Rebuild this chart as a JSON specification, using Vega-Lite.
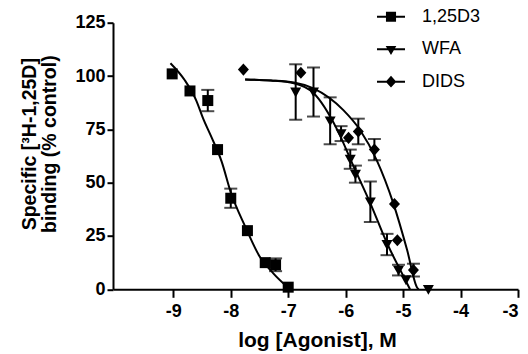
{
  "$schema": "https://vega.github.io/schema/vega-lite/v6.json",
  "width": 405,
  "height": 266.6,
  "autosize": "none",
  "padding": {"left": 113, "top": 22.7, "right": 10, "bottom": 64.7},
  "background": "white",
  "config": {"view": {"stroke": null}, "font": "Liberation Sans"},
  "datasets": {
    "points": [
      {"series": "1,25D3", "x": -9.02, "y": 101, "err": 0},
      {"series": "1,25D3", "x": -8.71, "y": 93, "err": 0},
      {"series": "1,25D3", "x": -8.4, "y": 88.5, "err": 5},
      {"series": "1,25D3", "x": -8.23, "y": 65.5, "err": 0},
      {"series": "1,25D3", "x": -8.0, "y": 42.7, "err": 4.5},
      {"series": "1,25D3", "x": -7.71, "y": 27.5, "err": 0},
      {"series": "1,25D3", "x": -7.4, "y": 12.5, "err": 0},
      {"series": "1,25D3", "x": -7.22, "y": 11.5, "err": 3},
      {"series": "1,25D3", "x": -7.0, "y": 1, "err": 0},
      {"series": "WFA", "x": -6.87, "y": 92.5, "err": 13},
      {"series": "WFA", "x": -6.56, "y": 92.5, "err": 11.5},
      {"series": "WFA", "x": -6.27, "y": 79, "err": 11},
      {"series": "WFA", "x": -6.08, "y": 73, "err": 3.5},
      {"series": "WFA", "x": -5.92, "y": 61, "err": 4.5},
      {"series": "WFA", "x": -5.83, "y": 54, "err": 4},
      {"series": "WFA", "x": -5.57, "y": 41, "err": 9.5},
      {"series": "WFA", "x": -5.28, "y": 21, "err": 5},
      {"series": "WFA", "x": -5.08, "y": 9, "err": 2.5},
      {"series": "WFA", "x": -4.95, "y": 4.5, "err": 0},
      {"series": "WFA", "x": -4.56, "y": 0, "err": 0},
      {"series": "DIDS", "x": -7.78, "y": 103, "err": 0},
      {"series": "DIDS", "x": -6.78, "y": 101.5, "err": 0},
      {"series": "DIDS", "x": -5.95, "y": 71, "err": 0},
      {"series": "DIDS", "x": -5.78, "y": 74, "err": 6},
      {"series": "DIDS", "x": -5.5, "y": 65.5, "err": 5},
      {"series": "DIDS", "x": -5.15, "y": 40, "err": 0},
      {"series": "DIDS", "x": -5.1, "y": 23, "err": 0},
      {"series": "DIDS", "x": -4.82, "y": 9, "err": 3}
    ],
    "curves": [
      {"series": "1,25D3", "x": -9.05, "y": 106},
      {"series": "1,25D3", "x": -8.8, "y": 98},
      {"series": "1,25D3", "x": -8.6, "y": 88.5},
      {"series": "1,25D3", "x": -8.48, "y": 80},
      {"series": "1,25D3", "x": -8.33, "y": 71},
      {"series": "1,25D3", "x": -8.16, "y": 60},
      {"series": "1,25D3", "x": -8.0, "y": 45.5},
      {"series": "1,25D3", "x": -7.75, "y": 29.5},
      {"series": "1,25D3", "x": -7.5, "y": 15.5},
      {"series": "1,25D3", "x": -7.26, "y": 7.5},
      {"series": "1,25D3", "x": -7.02, "y": 1.2},
      {"series": "1,25D3", "x": -6.97, "y": 0},
      {"series": "WFA", "x": -7.75, "y": 98.4},
      {"series": "WFA", "x": -7.3, "y": 97.9},
      {"series": "WFA", "x": -6.9, "y": 96.6},
      {"series": "WFA", "x": -6.56, "y": 92},
      {"series": "WFA", "x": -6.15, "y": 75},
      {"series": "WFA", "x": -5.86, "y": 57.5},
      {"series": "WFA", "x": -5.57, "y": 40.3},
      {"series": "WFA", "x": -5.28, "y": 21.6},
      {"series": "WFA", "x": -4.99, "y": 5.9},
      {"series": "WFA", "x": -4.88, "y": 0},
      {"series": "DIDS", "x": -7.75, "y": 98.4},
      {"series": "DIDS", "x": -7.3, "y": 97.9},
      {"series": "DIDS", "x": -6.9, "y": 97},
      {"series": "DIDS", "x": -6.56, "y": 94.2},
      {"series": "DIDS", "x": -6.04, "y": 84},
      {"series": "DIDS", "x": -5.75, "y": 74.7},
      {"series": "DIDS", "x": -5.46, "y": 60.6},
      {"series": "DIDS", "x": -5.17, "y": 40.3},
      {"series": "DIDS", "x": -4.93, "y": 18.4},
      {"series": "DIDS", "x": -4.76, "y": 1},
      {"series": "DIDS", "x": -4.73, "y": 0}
    ]
  },
  "encoding": {
    "x": {
      "field": "x",
      "type": "quantitative",
      "scale": {"domain": [-10.05, -3], "nice": false, "zero": false},
      "axis": {
        "values": [-9, -8, -7, -6, -5, -4, -3],
        "labelExpr": "datum.value + ''",
        "title": "log [Agonist], M",
        "grid": false,
        "domainColor": "black",
        "domainWidth": 2,
        "tickColor": "black",
        "tickWidth": 2,
        "tickSize": 8,
        "labelFont": "Liberation Sans",
        "labelFontSize": 18,
        "labelFontWeight": "bold",
        "labelColor": "black",
        "labelPadding": 5,
        "titleFont": "Liberation Sans",
        "titleFontSize": 21,
        "titleFontWeight": "bold",
        "titleColor": "black",
        "titleX": 204,
        "titleY": 57,
        "titleBaseline": "alphabetic",
        "titleAlign": "center"
      }
    },
    "y": {
      "field": "y",
      "type": "quantitative",
      "scale": {"domain": [0, 125], "nice": false},
      "axis": {
        "values": [0, 25, 50, 75, 100, 125],
        "title": ["Specific [³H-1,25D]", "binding (% control)"],
        "grid": false,
        "domainColor": "black",
        "domainWidth": 2,
        "tickColor": "black",
        "tickWidth": 2,
        "tickSize": 6,
        "labelFont": "Liberation Sans",
        "labelFontSize": 18,
        "labelFontWeight": "bold",
        "labelColor": "black",
        "labelPadding": 2,
        "titleFont": "Liberation Sans",
        "titleFontSize": 19.5,
        "titleFontWeight": "bold",
        "titleColor": "black",
        "titleAngle": 270,
        "titleX": -84,
        "titleY": 121,
        "titleBaseline": "middle",
        "titleAlign": "center",
        "titleLineHeight": 20
      }
    }
  },
  "resolve": {"scale": {"shape": "independent"}},
  "layer": [
    {
      "data": {"name": "curves"},
      "mark": {"type": "line", "color": "black", "strokeWidth": 2, "interpolate": "monotone"},
      "encoding": {"detail": {"field": "series", "type": "nominal"}}
    },
    {
      "data": {"name": "points"},
      "transform": [{"filter": "datum.err > 0"}],
      "mark": {"type": "errorbar", "ticks": {"size": 13}, "thickness": 2, "color": "black"},
      "encoding": {"yError": {"field": "err"}}
    },
    {
      "data": {"name": "points"},
      "mark": {"type": "point", "filled": true, "color": "black", "opacity": 1, "size": 121},
      "encoding": {
        "shape": {
          "field": "series",
          "type": "nominal",
          "scale": {
            "domain": ["1,25D3", "WFA", "DIDS"],
            "range": ["M-1,-1H1V1H-1Z", "M-1,-0.8H1L0,1Z", "M0,-1.1L1,0L0,1.1L-1,0Z"]
          },
          "legend": null
        }
      }
    },
    {
      "data": {"name": "points"},
      "transform": [{"filter": "datum.x > 100"}],
      "mark": {"type": "point", "filled": true, "color": "black", "opacity": 1},
      "encoding": {
        "shape": {
          "field": "series",
          "type": "nominal",
          "scale": {
            "domain": ["1,25D3", "WFA", "DIDS"],
            "range": [
              "M-1,-0.07H1V0.07H-1ZM-0.36,-0.36H0.36V0.36H-0.36Z",
              "M-1,-0.07H1V0.07H-1ZM-0.38,-0.22H0.38L0,0.42Z",
              "M-1,-0.07H1V0.07H-1ZM0,-0.42L0.38,0L0,0.42L-0.38,0Z"
            ]
          },
          "legend": {
            "orient": "none",
            "legendX": 264,
            "legendY": -20,
            "title": null,
            "padding": 0,
            "labelFont": "Liberation Sans",
            "labelFontSize": 18,
            "labelColor": "black",
            "labelOffset": 17,
            "rowPadding": 9.5,
            "symbolSize": 784,
            "symbolFillColor": "black",
            "symbolStrokeWidth": 0
          }
        }
      }
    }
  ]
}
